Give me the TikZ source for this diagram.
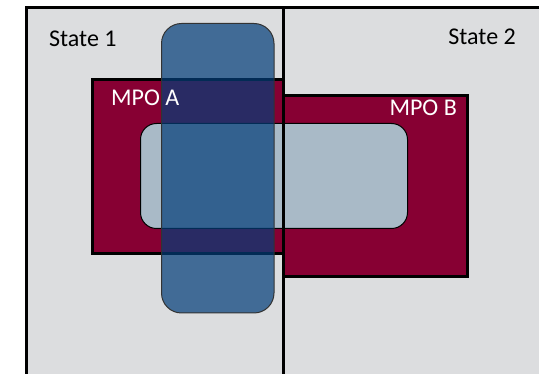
\documentclass[tikz,border=0pt]{standalone}
\usepackage{fontspec}
\setmainfont{Carlito}

\definecolor{stategray}{RGB}{220,221,223}
\definecolor{mpored}{RGB}{135,0,51}
\definecolor{corelight}{RGB}{169,186,199}
\definecolor{siteblue}{RGB}{3,61,121}

\begin{document}
\begin{tikzpicture}[x=1pt, y=-1pt, font=\fontsize{24}{28}\selectfont]

	% \drawbox#x1#y1#x2#y2#fillcolor#linewidth
	\def\drawbox#1#2#3#4#5#6{
		\filldraw[fill=#5, draw=black, line width=#6] (#1, #2) rectangle (#3, #4);
	}

	\useasboundingbox (0, 0) rectangle (539, 374);
	\clip (0, 0) rectangle (539, 374);

	% states
	\drawbox{26.5}{7.5}{283.5}{390}{stategray}{3pt}
	\drawbox{283.5}{7.5}{560}{390}{stategray}{3pt}

	% mpos
	\drawbox{92.5}{79.5}{283.5}{253.5}{mpored}{3pt}
	\drawbox{283.5}{95.5}{467.5}{276.5}{mpored}{3pt}

	% core
	\filldraw[fill=corelight, draw=black, line width=1pt, rounded corners=16pt]
		(140.5, 123.5) rectangle (407.5, 228.5);

	% divider
	\draw[line width=3pt] (283.5, 7.5) -- (283.5, 390);

	% site
	\filldraw[fill=siteblue, fill opacity=.71, draw=black!80, line width=1pt, rounded corners=20pt]
		(161.5, 23.5) rectangle (274, 313);

	% labels
	\node[anchor=base west, inner sep=0] (state1) at (49, 47) {State 1};
	\node[anchor=base east, inner sep=0] (state2) at (516, 45) {State 2};
	\node[anchor=base west, inner sep=0, text=white] (mpoA) at (111, 106) {MPO A};
	\node[anchor=base east, inner sep=0, text=white] (mpoB) at (457, 116) {MPO B};
\end{tikzpicture}
\end{document}
